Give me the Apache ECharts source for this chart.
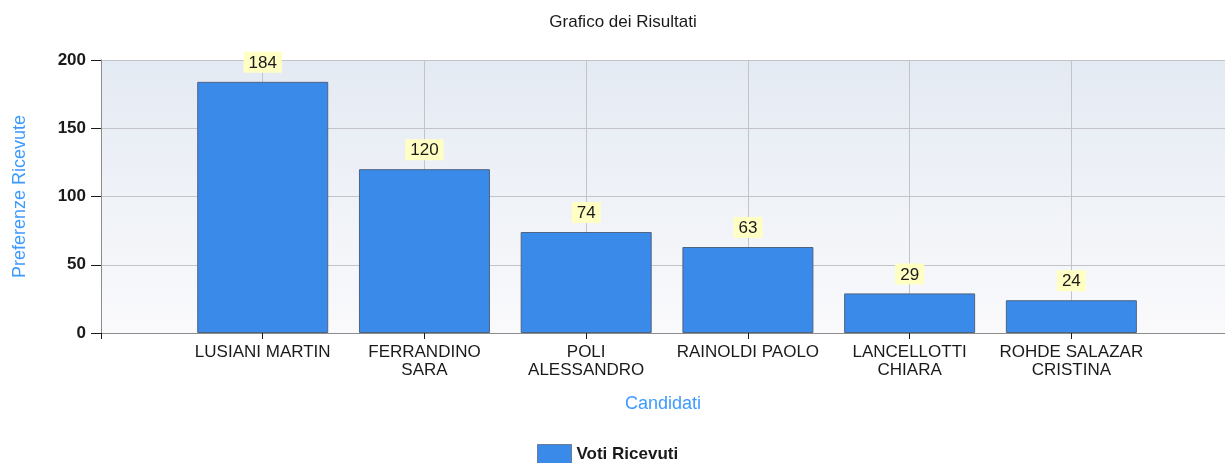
<!DOCTYPE html>
<html>
<head>
<meta charset="utf-8">
<script src="https://cdn.jsdelivr.net/npm/echarts@6/dist/echarts.min.js"></script>
<style>
  html, body { margin: 0; padding: 0; background: #fff; }
  #chart { width: 1225px; height: 463px; }
</style>
</head>
<body>
<div id="chart"></div>
<script>
// candidati e voti
const candidati = [
  'LUSIANI MARTIN',
  'FERRANDINO\nSARA',
  'POLI\nALESSANDRO',
  'RAINOLDI PAOLO',
  'LANCELLOTTI\nCHIARA',
  'ROHDE SALAZAR\nCRISTINA'
];
const voti = [184, 120, 74, 63, 29, 24];
const yTicks = [0, 50, 100, 150, 200];

const chart = echarts.init(document.getElementById('chart'));

// bars sit on 1..n of a value axis, like the original slot layout
const barData = voti.map((v, i) => [i + 1, v]);

const option = {
  animation: false,
  textStyle: { fontFamily: 'Liberation Sans, Arial, sans-serif' },
  title: {
    text: 'Grafico dei Risultati',
    left: 618,
    textAlign: 'center',
    top: 9,
    textStyle: { fontSize: 17, fontWeight: 'normal', color: '#1a1a1a' }
  },
  legend: {
    top: 444,
    left: 537,
    padding: 0,
    icon: 'rect',
    itemWidth: 34,
    itemHeight: 19,
    itemGap: 6,
    textStyle: { fontSize: 17, fontWeight: 'bold', color: '#1a1a1a' },
    itemStyle: { borderColor: '#6a7d96', borderWidth: 1 },
    data: ['Voti Ricevuti']
  },
  grid: {
    left: 101,
    right: 0,
    top: 60,
    bottom: 130,
    show: true,
    borderWidth: 0,
    backgroundColor: new echarts.graphic.LinearGradient(0, 0, 0, 1, [
      { offset: 0, color: '#e4eaf3' },
      { offset: 1, color: '#fafafc' }
    ])
  },
  xAxis: {
    type: 'value',
    min: 0,
    max: 6.95,
    interval: 1,
    name: 'Candidati',
    nameLocation: 'middle',
    nameGap: 62,
    nameTextStyle: { color: '#3d9bff', fontSize: 18 },
    axisLine: { show: true, lineStyle: { color: '#8c8c8c', width: 1 } },
    axisTick: { show: true, length: 6, lineStyle: { color: '#1a1a1a' } },
    axisLabel: {
      fontSize: 17,
      color: '#1a1a1a',
      margin: 10,
      lineHeight: 18,
      showMaxLabel: false,
      formatter: function (v) {
        const i = Math.round(v) - 1;
        return (Math.abs(v - Math.round(v)) < 1e-6 && i >= 0 && i < candidati.length) ? candidati[i] : '';
      }
    },
    splitLine: { show: true, lineStyle: { color: '#c4c4c8' } }
  },
  yAxis: {
    type: 'value',
    min: yTicks[0],
    max: yTicks[yTicks.length - 1],
    interval: 50,
    name: 'Preferenze Ricevute',
    nameLocation: 'middle',
    nameGap: 72,
    nameTextStyle: { color: '#3d9bff', fontSize: 18 },
    axisLine: { show: true, lineStyle: { color: '#8c8c8c' } },
    axisTick: { show: true, length: 10, lineStyle: { color: '#1a1a1a' } },
    axisLabel: { fontSize: 17, fontWeight: 'bold', color: '#1a1a1a', margin: 15 },
    splitLine: { show: true, lineStyle: { color: '#c4c4c8' } }
  },
  series: [{
    name: 'Voti Ricevuti',
    type: 'bar',
    data: barData,
    barWidth: 131,
    itemStyle: { color: '#3a8aea', borderColor: '#4d6480', borderWidth: 1 },
    label: {
      show: true,
      position: 'top',
      distance: 9,
      formatter: function (p) { return p.value[1]; },
      fontSize: 17,
      color: '#1a1a1a',
      backgroundColor: '#ffffc4',
      padding: [3, 5, 1, 5]
    }
  }]
};

chart.setOption(option);
</script>
</body>
</html>
